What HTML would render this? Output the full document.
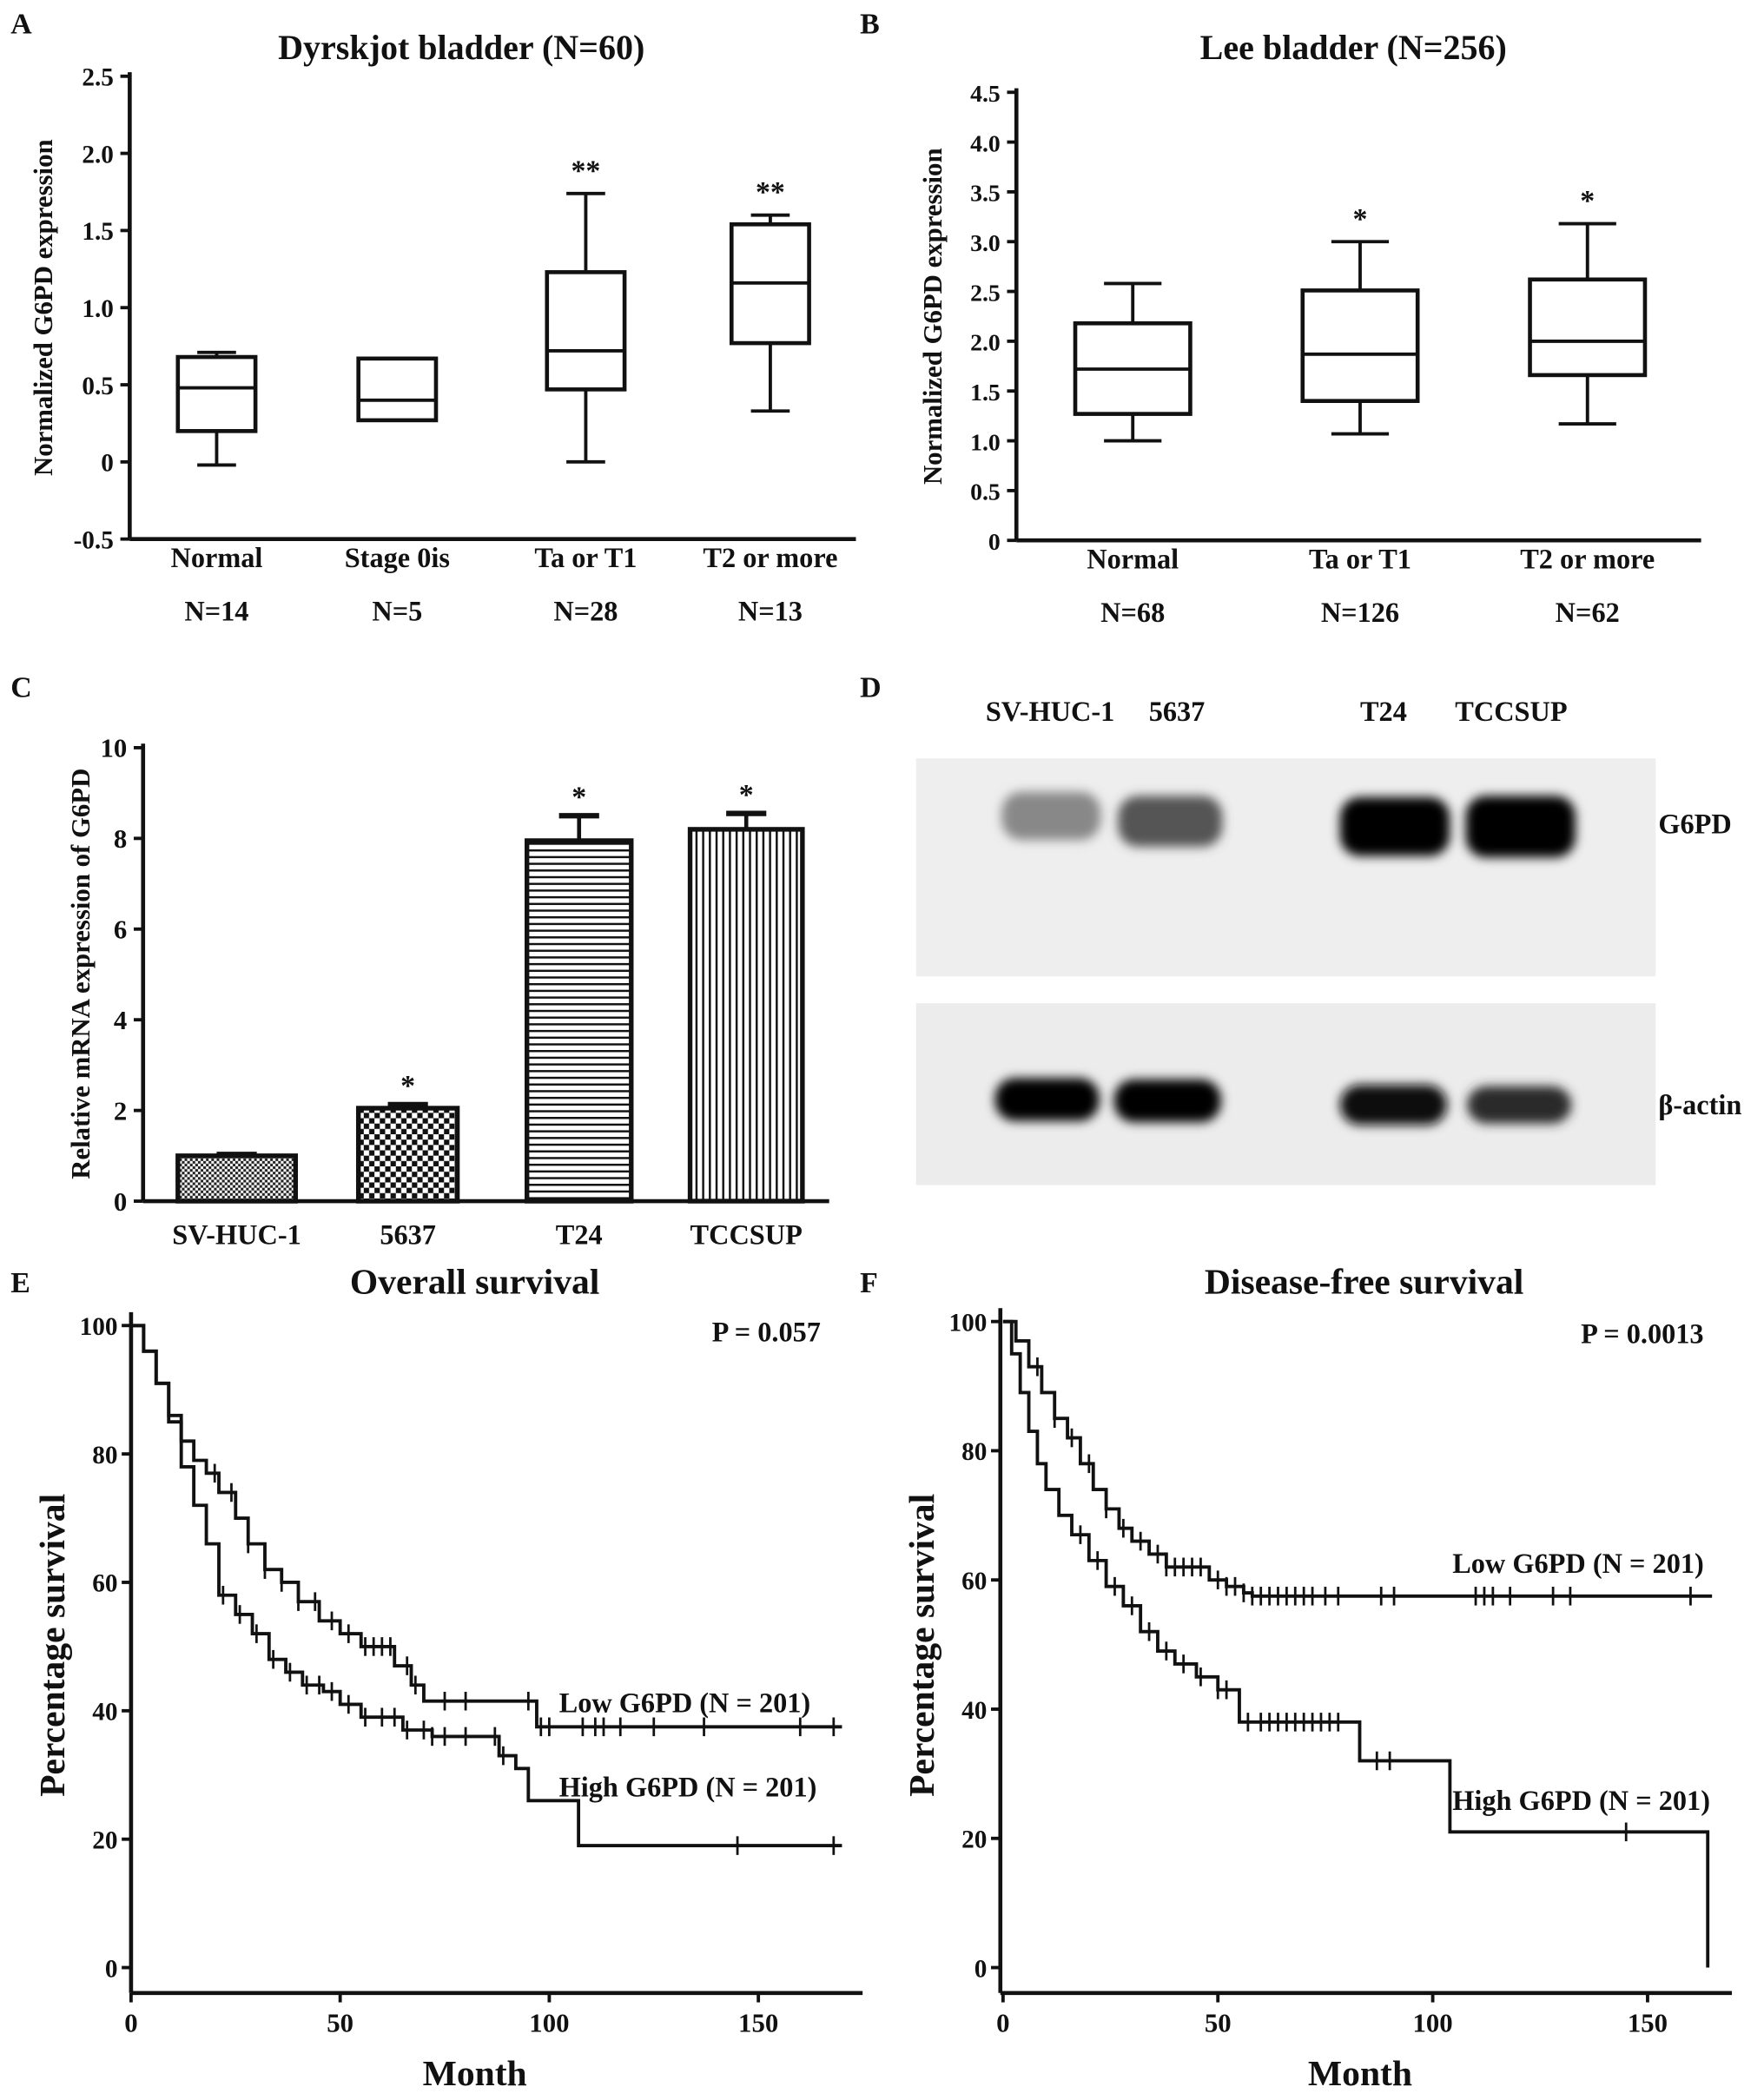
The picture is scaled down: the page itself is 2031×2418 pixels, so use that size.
<!DOCTYPE html>
<html><head><meta charset="utf-8"><style>
html,body{margin:0;padding:0;background:#fff}
svg{display:block}
text{font-family:"Liberation Serif",serif;font-weight:bold;fill:#111}
</style></head><body>
<svg id="fig" width="2031" height="2418" viewBox="0 0 1319 1570" preserveAspectRatio="none" xmlns="http://www.w3.org/2000/svg">
<defs>
<pattern id="pCheckSm" width="4" height="4" patternUnits="userSpaceOnUse"><rect width="4" height="4" fill="#fff"/><rect width="2" height="2" fill="#222"/><rect x="2" y="2" width="2" height="2" fill="#222"/></pattern>
<pattern id="pCheck" width="8" height="8" patternUnits="userSpaceOnUse"><rect width="8" height="8" fill="#fff"/><rect width="4" height="4" fill="#111"/><rect x="4" y="4" width="4" height="4" fill="#111"/></pattern>
<pattern id="pH" width="6" height="5" patternUnits="userSpaceOnUse"><rect width="6" height="5" fill="#fff"/><rect width="6" height="1.6" fill="#111"/></pattern>
<pattern id="pV" width="5" height="6" patternUnits="userSpaceOnUse"><rect width="5" height="6" fill="#fff"/><rect width="1.6" height="6" fill="#111"/></pattern>
<filter id="blur2" x="-30%" y="-50%" width="160%" height="200%"><feGaussianBlur stdDeviation="4"/></filter>
</defs>
<g id="root"></g>
</svg>
<script>
// ---------- data ----------
const boxACats=["Normal","Stage 0is","Ta or T1","T2 or more"];
const boxAN=["N=14","N=5","N=28","N=13"];
const boxAMin=[-0.02,0.27,0.0,0.33];
const boxAQ1=[0.2,0.27,0.47,0.77];
const boxAMed=[0.48,0.4,0.72,1.16];
const boxAQ3=[0.68,0.67,1.23,1.54];
const boxAMax=[0.71,0.67,1.74,1.6];
const boxAStar=["","","**","**"];
const boxATicks=[-0.5,0,0.5,1.0,1.5,2.0,2.5];
const boxATickLabels=["-0.5","0","0.5","1.0","1.5","2.0","2.5"];

const boxBCats=["Normal","Ta or T1","T2 or more"];
const boxBN=["N=68","N=126","N=62"];
const boxBMin=[1.0,1.07,1.17];
const boxBQ1=[1.27,1.4,1.66];
const boxBMed=[1.72,1.87,2.0];
const boxBQ3=[2.18,2.51,2.62];
const boxBMax=[2.58,3.0,3.18];
const boxBStar=["","*","*"];
const boxBTicks=[0,0.5,1.0,1.5,2.0,2.5,3.0,3.5,4.0,4.5];
const boxBTickLabels=["0","0.5","1.0","1.5","2.0","2.5","3.0","3.5","4.0","4.5"];

const barCats=["SV-HUC-1","5637","T24","TCCSUP"];
const barVals=[1.0,2.05,7.95,8.2];
const barErr=[0.03,0.08,0.55,0.35];
const barStar=["","*","*","*"];
const barTicks=[0,2,4,6,8,10];

const eLowT=[0,3,6,9,12,15,18,21,25,28,32,36,40,45,50,55,60,63,67,70,95,97,170];
const eLowS=[100,96,91,86,82,79,77,74,70,66,62,60,57,54,52,50,50,47,44,41.5,41.5,37.5,37.5];
const eHighT=[0,3,6,9,12,15,18,21,25,29,33,37,41,46,50,55,65,72,85,88,92,95,107,170];
const eHighS=[100,96,91,85,78,72,66,58,55,52,48,46,44,43,41,39,37,36,36,33,31,26,19,19];
const eLowCens=[20,24,28,32,36,40,44,48,52,56,58,60,62,66,68,75,80,95,98,100,108,111,113,117,125,137,160,168];
const eHighCens=[22,26,30,34,38,42,45,48,52,56,60,63,66,70,72,75,80,87,89,145,168];
const eTicksX=[0,50,100,150];
const eTicksY=[0,20,40,60,80,100];

const fLowT=[0,3,6,9,12,15,18,21,24,27,30,34,38,42,48,52,56,58,165];
const fLowS=[100,97,93,89,85,82,78,74,71,68,66,64,62,62,60,59,58,57.5,57.5];
const fHighT=[0,2,4,6,8,10,13,16,20,24,28,32,36,40,45,50,55,82,83,103,104,163,164];
const fHighS=[100,95,89,83,78,74,70,67,63,59,56,52,49,47,45,43,38,38,32,32,21,21,0];
const fLowCens=[8,12,16,20,24,28,32,36,38,40,42,44,46,50,52,54,56,58,60,62,64,66,68,70,72,75,78,88,91,110,112,114,118,128,132,160];
const fHighCens=[18,22,26,30,34,38,42,46,50,52,57,60,62,64,66,68,70,72,74,76,78,87,90,145];
const fTicksX=[0,50,100,150];
const fTicksY=[0,20,40,60,80,100];

// ---------- helpers ----------
const NS="http://www.w3.org/2000/svg";
const root=document.getElementById('root');
function el(tag,attrs,parent,txt){const e=document.createElementNS(NS,tag);for(const k in attrs)e.setAttribute(k,attrs[k]);if(txt!==undefined)e.textContent=txt;(parent||root).appendChild(e);return e;}
function line(x1,y1,x2,y2,p,w){return el('line',{x1,y1,x2,y2,stroke:'#111','stroke-width':w||2.5},p);}

function label(txt,x,y,size,anchor,name,p,rot){const t=el('text',{x,y,'font-size':size,'text-anchor':anchor||'middle'},p,txt);if(rot)t.setAttribute('transform',`rotate(-90 ${x} ${y})`);


return t;}

// ---------- panel letters ----------
[["A",8,25],["B",643,25],["C",8,521],["D",643,521],["E",8,966],["F",643,966]].forEach(l=>{label(l[0],l[1],l[2],22,'start','panel-letter-'+l[0].toLowerCase());});

// ---------- box plots ----------
function boxPanel(o){
  const g=el('g',{});
  
  
  const y=v=>o.y0+(v-o.vmin)/(o.vmax-o.vmin)*(o.y1-o.y0);
  const axY=y(o.vmin);
  line(o.ax,y(o.vmax)-3,o.ax,axY,g,3);
  line(o.ax,axY,o.axEnd,axY,g,3);
  o.ticks.forEach((t,i)=>{line(o.ax-7,y(t),o.ax,y(t),g);
    label(o.tickLabels[i],o.ax-12,y(t)+7,o.tfs,'end','y-tick-label',g);});
  o.cats.forEach((c,i)=>{
    const x=o.cx[i];const hw=o.bw/2;
    line(x,y(o.min[i]),x,y(o.q1[i]),g);
    line(x,y(o.q3[i]),x,y(o.max[i]),g);
    line(x-hw/2,y(o.min[i]),x+hw/2,y(o.min[i]),g);
    line(x-hw/2,y(o.max[i]),x+hw/2,y(o.max[i]),g);
    const b=el('rect',{x:x-hw,y:y(o.q3[i]),width:o.bw,height:y(o.q1[i])-y(o.q3[i]),fill:'#fff',stroke:'#111','stroke-width':3},g);
    
    
    line(x-hw,y(o.med[i]),x+hw,y(o.med[i]),g);
    if(o.star[i])label(o.star[i],x,y(o.max[i])-10,22,'middle','significance-star',g);
    label(c,x,axY+21,21,'middle','x-category-label',g);
    label(o.ns[i],x,axY+61,21,'middle','sample-size-label',g);
  });
  label(o.title,o.tx,44,26,'middle','chart-title',g);
  label(o.ylab,o.ylx,(o.y0+o.y1)/2,20,'middle','y-axis-title',g,true);
}
boxPanel({name:'panel-a-boxplot',cats:boxACats,ns:boxAN,min:boxAMin,q1:boxAQ1,med:boxAMed,q3:boxAQ3,max:boxAMax,star:boxAStar,
  ticks:boxATicks,tickLabels:boxATickLabels,vmin:-0.5,vmax:2.5,y0:403,y1:57,ax:97,axEnd:640,cx:[162,297,438,576],bw:58,tfs:19,
  title:'Dyrskjot bladder (N=60)',tx:345,ylab:'Normalized G6PD expression',ylx:39});
boxPanel({name:'panel-b-boxplot',cats:boxBCats,ns:boxBN,min:boxBMin,q1:boxBQ1,med:boxBMed,q3:boxBQ3,max:boxBMax,star:boxBStar,
  ticks:boxBTicks,tickLabels:boxBTickLabels,vmin:0,vmax:4.5,y0:404,y1:69,ax:760,axEnd:1272,cx:[847,1017,1187],bw:86,tfs:18,
  title:'Lee bladder (N=256)',tx:1012,ylab:'Normalized G6PD expression',ylx:704});

// ---------- bar chart C ----------
(function(){
  const g=el('g',{});
  
  
  const y=v=>898-v/10*339, ax=107, cx=[177,305,433,558], bw=[88,74,78,84];
  const fills=['url(#pCheckSm)','url(#pCheck)','url(#pH)','url(#pV)'];
  line(ax,y(10)-3,ax,898,g,3);line(ax,898,620,898,g,3);
  barTicks.forEach(t=>{line(ax-7,y(t),ax,y(t),g);label(String(t),ax-12,y(t)+7,20,'end','y-tick-label',g);});
  barCats.forEach((c,i)=>{
    const x=cx[i];
    line(x,y(barVals[i]),x,y(barVals[i]+barErr[i]),g,3);
    line(x-15,y(barVals[i]+barErr[i]),x+15,y(barVals[i]+barErr[i]),g,4);
    const r=el('rect',{x:x-bw[i]/2,y:y(barVals[i]),width:bw[i],height:898-y(barVals[i]),fill:fills[i],stroke:'#111','stroke-width':3.5},g);
    
    
    if(barStar[i])label(barStar[i],x,y(barVals[i]+barErr[i])-7,22,'middle','significance-star',g);
    label(c,x,930,21,'middle','x-category-label',g);
  });
  label('Relative mRNA expression of G6PD',67,728,20,'middle','y-axis-title',g,true);
})();

// ---------- western blot D ----------
(function(){
  const g=el('g',{});
  
  
  el('rect',{x:685,y:567,width:553,height:163,fill:'#eeeeee'},g);
  el('rect',{x:685,y:750,width:553,height:136,fill:'#ececec'},g);
  const bands=[[786,610,74,36,'#888'],[875,614,78,38,'#555'],[1043,618,82,44,'#000'],[1137,618,82,46,'#000'],
               [783,822,78,32,'#000'],[873,823,80,32,'#000'],[1042,826,80,30,'#111'],[1136,826,78,28,'#2a2a2a']];
  bands.forEach(b=>{const r=el('rect',{x:b[0]-b[2]/2,y:b[1]-b[3]/2,width:b[2],height:b[3],rx:15,fill:b[4],filter:'url(#blur2)'},g);
    
    });
  label('SV-HUC-1',737,539,21,'start','lane-label',g);
  label('5637',859,539,21,'start','lane-label',g);
  label('T24',1017,539,21,'start','lane-label',g);
  label('TCCSUP',1088,539,21,'start','lane-label',g);
  label('G6PD',1240,623,21,'start','band-label',g);
  label('β-actin',1240,833,21,'start','band-label',g);
})();

// ---------- KM curves ----------
function km(o){
  const g=el('g',{});
  
  
  const x=v=>o.x0+v*o.kx, y=v=>o.y0-v*o.ky;
  line(o.ax,y(100)-10,o.ax,o.axY,g,3);line(o.ax,o.axY,o.axEnd,o.axY,g,3);
  o.tx.forEach(t=>{line(x(t),o.axY,x(t),o.axY+7,g);label(String(t),x(t),o.axY+29,20,'middle','x-tick-label',g);});
  o.ty.forEach(t=>{line(o.ax-7,y(t),o.ax,y(t),g);label(String(t),o.ax-10,y(t)+7,19,'end','y-tick-label',g);});
  o.series.forEach(s=>{
    let d=`M${x(s.t[0])},${y(s.s[0])}`;
    for(let i=1;i<s.t.length;i++)d+=`H${x(s.t[i])}V${y(s.s[i])}`;
    const p=el('path',{d,fill:'none',stroke:'#111','stroke-width':2.5},g);
    
    
    s.c.forEach(ct=>{let v=s.s[0];for(let i=0;i<s.t.length;i++)if(s.t[i]<=ct)v=s.s[i];
      line(x(ct),y(v)-7,x(ct),y(v)+7,g,1.8);});
  });
  label(o.title,o.titleX,967,27,'middle','chart-title',g);
  label(o.p,o.pX,o.pY,21,'middle','p-value',g);
  label('Low  G6PD (N = 201)',o.lowX,o.lowY,21,'start','legend-low-g6pd',g);
  label('High G6PD (N = 201)',o.highX,o.highY,21,'start','legend-high-g6pd',g);
  label('Month',o.mX,1559,27,'middle','x-axis-title',g);
  label('Percentage survival',o.ylx,1230,27,'middle','y-axis-title',g,true);
}
km({name:'panel-e-overall-survival',x0:98,kx:3.127,y0:1471,ky:4.8,ax:98,axY:1490,axEnd:645,tx:eTicksX,ty:eTicksY,
  series:[{name:'low-g6pd-curve',t:eLowT,s:eLowS,c:eLowCens},{name:'high-g6pd-curve',t:eHighT,s:eHighS,c:eHighCens}],
  title:'Overall survival',titleX:355,p:'P = 0.057',pX:573,pY:1003,lowX:418,lowY:1280,highX:418,highY:1343,mX:355,ylx:48});
km({name:'panel-f-disease-free-survival',x0:750,kx:3.213,y0:1471,ky:4.83,ax:748,axY:1490,axEnd:1295,tx:fTicksX,ty:fTicksY,
  series:[{name:'low-g6pd-curve',t:fLowT,s:fLowS,c:fLowCens},{name:'high-g6pd-curve',t:fHighT,s:fHighS,c:fHighCens}],
  title:'Disease-free survival',titleX:1020,p:'P = 0.0013',pX:1228,pY:1004,lowX:1086,lowY:1176,highX:1086,highY:1353,mX:1017,ylx:698});
</script>
</body></html>
